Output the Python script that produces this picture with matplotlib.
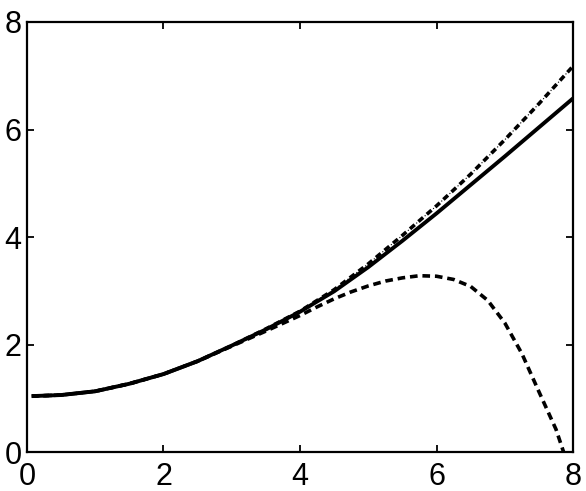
import numpy as np
import matplotlib
matplotlib.use("Agg")
import matplotlib.pyplot as plt

plt.rcParams['font.family'] = ['Liberation Sans', 'DejaVu Sans']
plt.rcParams['lines.scale_dashes'] = False

# --- valores ---
x_solida = [0.07, 0.5, 1.0, 1.5, 2.0, 2.5, 3.0, 3.5, 4.0, 4.5, 5.0, 5.5, 6.0, 6.5, 7.0, 7.5, 8.0]
y_solida = [1.04, 1.06, 1.13, 1.27, 1.45, 1.69, 1.98, 2.28, 2.61, 2.99, 3.44, 3.93, 4.44, 4.97, 5.50, 6.04, 6.58]

x_rayapunto = [0.07, 0.5, 1.0, 1.5, 2.0, 2.5, 3.0, 3.5, 4.0, 4.5, 5.0, 5.5, 6.0, 6.5, 7.0, 7.5, 8.0]
y_rayapunto = [1.04, 1.06, 1.13, 1.27, 1.45, 1.69, 1.98, 2.29, 2.62, 3.02, 3.50, 4.03, 4.58, 5.17, 5.81, 6.48, 7.18]

x_rayas = [0.07, 0.5, 1.0, 1.5, 2.0, 2.5, 3.0, 3.5, 4.0, 4.25, 4.5, 4.75, 5.0, 5.25, 5.5, 5.75,
           6.0, 6.25, 6.5, 6.75, 7.0, 7.25, 7.5, 7.75, 7.9]
y_rayas = [1.04, 1.06, 1.13, 1.27, 1.45, 1.69, 1.97, 2.25, 2.54, 2.70, 2.85, 2.98, 3.09, 3.18, 3.24, 3.28,
           3.27, 3.21, 3.08, 2.82, 2.40, 1.83, 1.12, 0.42, -0.15]

ticks = [0, 2, 4, 6, 8]

fig = plt.figure(figsize=(5.86, 4.91), dpi=100)
ax = fig.add_axes([0.046, 0.0794, 0.932, 0.8758])

# raya-punto: rayas gruesas y puntos finos
ax.plot(x_rayapunto, y_rayapunto, color='black', lw=2.6, linestyle=(0, (4.5, 3.5)), dash_capstyle='butt')
ax.plot(x_rayapunto, y_rayapunto, color='black', lw=0.8, linestyle=(2.0, (0.8, 7.2)), dash_capstyle='butt')
ax.plot(x_rayas, y_rayas, color='black', lw=2.6, linestyle=(0, (5.5, 3.5)), dash_capstyle='butt')
ax.plot(x_solida, y_solida, color='black', lw=2.8, solid_capstyle='butt', solid_joinstyle='round')

ax.set_xlim(0, 8)
ax.set_ylim(0, 8)
ax.set_xticks(ticks)
ax.set_yticks(ticks)
ax.tick_params(direction='in', length=5, width=1.3, top=True, right=True, labelsize=22, pad=4)
ax.tick_params(axis='x', pad=7)
for s in ax.spines.values():
    s.set_linewidth(1.6)

plt.savefig("out.png", dpi=100)
